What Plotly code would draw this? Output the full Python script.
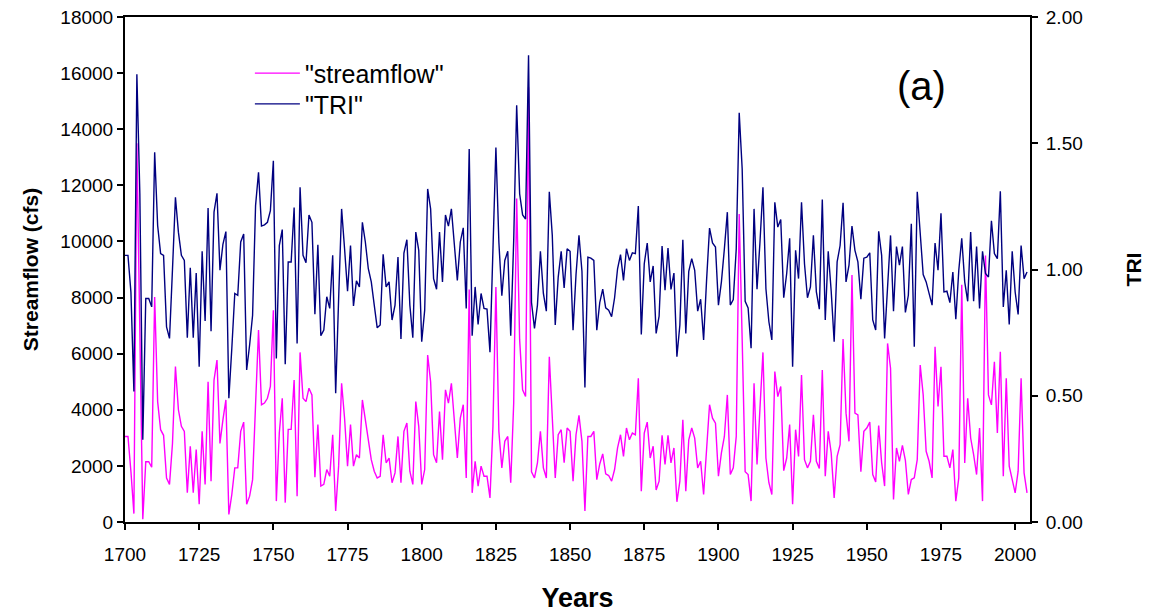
import plotly.graph_objects as go

start_year = 1700

tri = [
    1.056, 1.056, 0.910, 0.517, 1.773, 1.300, 0.326, 0.885, 0.885, 0.852,
    1.464, 1.174, 1.063, 1.056, 0.773, 0.727, 1.000, 1.286, 1.148, 1.056,
    1.036, 0.730, 1.007, 0.730, 0.986, 0.615, 1.072, 0.796, 1.243, 0.756,
    1.227, 1.302, 0.997, 1.100, 1.150, 0.490, 0.688, 0.905, 0.898, 1.109,
    1.141, 0.602, 0.701, 0.819, 1.253, 1.385, 1.172, 1.177, 1.187, 1.233,
    1.431, 0.648, 1.095, 1.158, 0.625, 1.030, 1.030, 1.245, 0.707, 1.326,
    1.056, 1.027, 1.216, 1.187, 0.823, 1.098, 0.738, 0.760, 0.892, 0.846,
    1.056, 0.510, 0.885, 1.240, 1.082, 0.914, 1.095, 0.856, 0.955, 0.931,
    1.187, 1.109, 1.003, 0.951, 0.859, 0.769, 0.780, 1.060, 0.931, 0.951,
    0.800, 0.859, 1.049, 0.725, 1.065, 1.118, 0.859, 0.730, 1.148, 1.076,
    0.714, 0.839, 1.319, 1.240, 0.964, 0.922, 1.148, 0.951, 1.216, 1.172,
    1.240, 1.082, 0.957, 1.109, 1.165, 0.846, 1.477, 0.738, 0.931, 0.782,
    0.905, 0.846, 0.843, 0.672, 1.080, 1.483, 1.109, 0.896, 1.036, 1.072,
    0.738, 1.115, 1.650, 1.300, 1.216, 1.200, 1.848, 0.869, 0.767, 0.859,
    1.072, 0.905, 0.835, 1.308, 1.135, 0.780, 0.970, 1.072, 0.927, 1.082,
    1.072, 0.760, 0.980, 1.135, 0.993, 0.533, 1.049, 1.045, 1.036, 0.760,
    0.869, 0.922, 0.848, 0.839, 0.813, 0.888, 1.003, 1.059, 0.957, 1.082,
    1.036, 1.066, 1.063, 1.251, 0.743, 1.023, 1.105, 0.951, 1.014, 0.747,
    0.815, 1.093, 0.918, 1.085, 0.921, 0.986, 0.655, 0.780, 1.118, 0.747,
    0.993, 1.043, 0.997, 0.835, 0.882, 0.721, 0.957, 1.164, 1.105, 1.089,
    0.859, 0.951, 1.082, 1.227, 0.859, 0.881, 1.082, 1.621, 1.398, 0.874,
    0.848, 0.688, 1.240, 0.922, 1.109, 1.326, 0.924, 0.793, 0.721, 1.266,
    1.168, 1.198, 0.888, 0.984, 1.124, 0.615, 1.076, 0.964, 1.266, 1.023,
    0.888, 0.931, 1.135, 0.911, 0.843, 1.277, 0.800, 1.072, 0.914, 0.714,
    1.030, 1.095, 1.264, 0.951, 1.017, 1.172, 1.076, 1.030, 0.882, 1.045,
    1.049, 1.066, 0.800, 0.760, 1.151, 1.056, 0.727, 0.924, 1.135, 0.835,
    1.091, 1.017, 1.091, 0.830, 0.898, 1.181, 0.694, 1.308, 1.122, 0.980,
    0.951, 0.901, 0.859, 1.105, 0.997, 1.223, 0.911, 0.914, 0.869, 0.990,
    0.803, 0.997, 1.124, 0.951, 0.874, 1.148, 0.874, 1.091, 0.846, 1.072,
    0.984, 0.970, 1.193, 1.063, 1.043, 1.310, 0.852, 0.997, 0.782, 1.072,
    0.911, 0.822, 1.095, 0.964, 0.990,
]

streamflow = [
    3050, 3050, 1800, 300, 13500, 6000, 100, 2150, 2150, 1950,
    8020, 4290, 3290, 3090, 1570, 1340, 2800, 5540, 4000, 3410,
    3230, 1040, 2700, 1040, 2580, 630, 3230, 1340, 5000, 1455,
    5060, 5770, 2800, 3640, 4350, 270, 980, 1930, 1930, 3230,
    3560, 630, 920, 1510, 4060, 6840, 4180, 4240, 4410, 4830,
    7550, 745, 3170, 4410, 690, 3300, 3300, 5060, 920, 6045,
    4410, 4290, 4770, 4530, 1600, 3470, 1280, 1340, 1870, 1630,
    3110, 390, 2000, 4945, 3700, 1990, 3470, 1990, 2400, 2280,
    4350, 3640, 2760, 2220, 1810, 1570, 1630, 3110, 2110, 2280,
    1400, 1750, 3050, 1400, 3230, 3525, 1810, 1340, 4290, 3410,
    1340, 1870, 5950, 5000, 2400, 2110, 3940, 2220, 4710, 4240,
    4945, 3470, 2280, 3700, 4180, 1570, 8290, 1040, 2165, 1280,
    1990, 1630, 1630, 860, 3400, 8380, 3230, 1930, 2875, 3050,
    1400, 4240, 11530, 6500, 4710, 4470, 15500, 1790, 1570, 2110,
    3230, 1930, 1570, 5890, 3820, 1570, 3110, 3290, 2110, 3350,
    3230, 1455, 3110, 3800, 2875, 390, 3050, 3050, 3230, 1510,
    2070, 2425, 1715, 1656, 1455, 1870, 2640, 3110, 2340, 3350,
    2930, 3170, 3110, 5120, 1100, 3170, 3560, 2280, 2700, 1140,
    1455, 3090, 2050, 3090, 2110, 2640, 720, 1455, 3640, 1100,
    2930, 3350, 2990, 1930, 2165, 980, 2580, 4180, 3700, 3525,
    1630, 2460, 3050, 4530, 1690, 1930, 3050, 10980, 6500, 1790,
    1690, 745, 4945, 2050, 4060, 6045, 2280, 1400, 980, 5360,
    4470, 4830, 1830, 2280, 3470, 630, 3290, 2340, 5240, 2220,
    1930, 2165, 3820, 2165, 1905, 5420, 1630, 3230, 2460, 860,
    2340, 2760, 6520, 3880, 2875, 8800, 3880, 3820, 1790, 3230,
    3350, 3560, 1690, 1430, 3440, 2110, 1280, 6365, 5480, 800,
    2640, 2165, 2730, 2200, 982, 1514, 1573, 2224, 5596, 4531,
    2520, 2165, 1573, 6246, 4117, 5536, 2342, 2342, 1928, 2579,
    745, 1573, 8458, 2106, 4413, 2993, 2401, 1692, 3348, 745,
    9500, 4531, 4176, 5714, 3170, 6069, 1633, 5122, 1987, 1455,
    1041, 1810, 5122, 1751, 1041,
]

years = list(range(start_year, start_year + len(tri)))
years_sf = list(range(start_year, start_year + len(streamflow)))

x_ticks = list(range(1700, 2001, 25))
sf_ticks = list(range(0, 18001, 2000))
tri_ticks = [0.0, 0.5, 1.0, 1.5, 2.0]

FONT = "Liberation Sans, Arial, sans-serif"

fig = go.Figure()
fig.add_trace(go.Scatter(
    x=years_sf, y=streamflow, name='"streamflow"', mode="lines",
    line=dict(color="#FF00FF", width=1.4), yaxis="y", legend="legend",
))
fig.add_trace(go.Scatter(
    x=years, y=tri, name='"TRI"', mode="lines",
    line=dict(color="#000080", width=1.4), yaxis="y2", legend="legend2",
))

axis_common = dict(
    showgrid=False, zeroline=False, showline=True, linecolor="black",
    linewidth=2, ticks="outside", tickcolor="black", tickwidth=2, ticklen=6,
    tickfont=dict(family=FONT, size=19, color="black"),
)

legend_common = dict(
    x=0.138, xanchor="left", yanchor="top", itemwidth=45,
    bgcolor="rgba(0,0,0,0)", font=dict(family=FONT, size=25),
)

fig.update_layout(
    width=1150, height=613,
    margin=dict(l=125, r=120, t=17, b=91, autoexpand=False),
    paper_bgcolor="white", plot_bgcolor="white",
    font=dict(family=FONT, color="black"),
    xaxis=dict(
        range=[1700, 2005], tickvals=x_ticks, mirror=True, ticklabelstandoff=8,
        title=dict(text="Years", font=dict(family=FONT, size=27, weight="bold"), standoff=26),
        **axis_common,
    ),
    yaxis=dict(
        range=[0, 18000], tickvals=sf_ticks, tickformat="d",
        title=dict(text="Streamflow (cfs)", font=dict(family=FONT, size=21, weight="bold"), standoff=16),
        **axis_common,
    ),
    yaxis2=dict(
        range=[0, 2], tickvals=tri_ticks, tickformat=".2f", overlaying="y", side="right",
        ticklabelstandoff=4,
        title=dict(text="TRI", font=dict(family=FONT, size=21, weight="bold"), standoff=45),
        **axis_common,
    ),
    legend=dict(y=0.934, **legend_common),
    legend2=dict(y=0.873, **legend_common),
    showlegend=True,
    annotations=[dict(
        text="(a)", x=0.88, y=0.864, xref="paper", yref="paper",
        xanchor="center", yanchor="middle",
        showarrow=False, font=dict(family=FONT, size=40, color="black"),
    )],
)

fig.write_html(
    "out.html",
    config={"displayModeBar": False},
    post_script="document.body.style.margin='0px';",
)
